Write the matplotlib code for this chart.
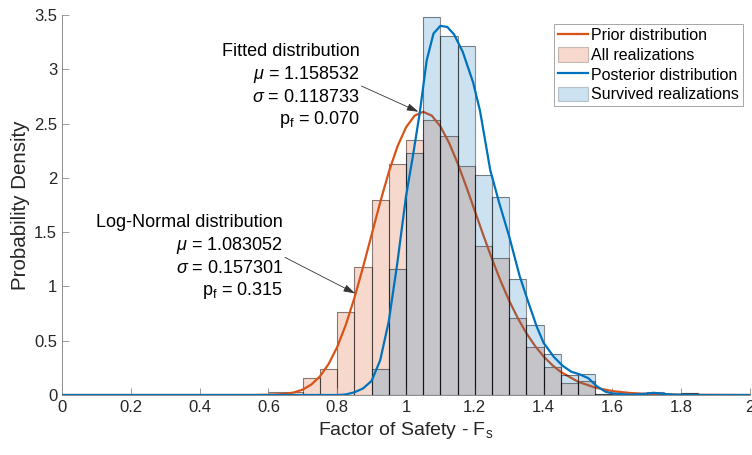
import matplotlib
matplotlib.use("Agg")
import matplotlib.pyplot as plt
from matplotlib.patches import Patch
from matplotlib.lines import Line2D

plt.rcParams['font.family'] = ['Liberation Sans', 'DejaVu Sans']
plt.rcParams['mathtext.fontset'] = 'custom'
plt.rcParams['mathtext.rm'] = 'Liberation Sans'
plt.rcParams['mathtext.it'] = 'Liberation Sans:italic'

# histogram bins (left edges, width 0.05)
bin_left = [0.60, 0.65, 0.70, 0.75, 0.80, 0.85, 0.90, 0.95, 1.00, 1.05, 1.10, 1.15, 1.20,
            1.25, 1.30, 1.35, 1.40, 1.45, 1.50, 1.55, 1.60, 1.65, 1.70, 1.75, 1.80]
bin_width = 0.05
all_density = [0.03, 0.03, 0.154, 0.236, 0.76, 1.18, 1.80, 2.13, 2.35, 2.53, 2.39, 2.11, 1.375,
               1.26, 0.71, 0.445, 0.255, 0.115, 0.125, 0.012, 0.006, 0.0, 0.02, 0.0, 0.02]
survived_density = [0, 0, 0, 0, 0, 0, 0.236, 1.157, 2.225, 3.48, 3.31, 3.21, 2.03,
                    1.82, 1.07, 0.647, 0.375, 0.184, 0.19, 0.012, 0.0, 0.0, 0.03, 0.0, 0.02]

# prior (log-normal) curve
prior_x = [0.0, 0.5, 0.55, 0.6, 0.65, 0.675, 0.7, 0.725, 0.75, 0.775, 0.8, 0.825, 0.85, 0.875,
           0.9, 0.925, 0.95, 0.975, 1.0, 1.025, 1.05, 1.075, 1.1, 1.125, 1.15, 1.175, 1.2,
           1.225, 1.25, 1.275, 1.3, 1.325, 1.35, 1.375, 1.4, 1.425, 1.45, 1.5, 1.55, 1.6,
           1.65, 1.7, 1.8, 1.9, 2.0]
prior_y = [0.0, 0.0, 0.0, 0.002, 0.01, 0.024, 0.05, 0.097, 0.172, 0.285, 0.442, 0.646, 0.894, 1.176,
           1.476, 1.775, 2.053, 2.288, 2.465, 2.573, 2.608, 2.573, 2.474, 2.324, 2.135, 1.921, 1.696,
           1.47, 1.253, 1.051, 0.868, 0.708, 0.569, 0.452, 0.355, 0.276, 0.212, 0.122, 0.068, 0.036,
           0.019, 0.01, 0.003, 0.001, 0.0]

# posterior curve
post_x = [0.0, 0.8, 0.825, 0.85, 0.875, 0.9, 0.925, 0.95, 0.975, 1.0, 1.02, 1.04, 1.06, 1.08,
          1.1, 1.12, 1.14, 1.165, 1.195, 1.215, 1.245, 1.27, 1.30, 1.33, 1.355, 1.38, 1.40,
          1.43, 1.455, 1.48, 1.505, 1.53, 1.555, 1.58, 1.60, 1.65, 1.69, 1.72, 1.75, 1.78,
          1.85, 2.0]
post_y = [0.0, 0.0, 0.005, 0.025, 0.06, 0.13, 0.32, 0.68, 1.22, 1.83, 2.2, 2.6, 3.08, 3.33,
          3.40, 3.39, 3.32, 3.16, 2.88, 2.62, 2.07, 1.78, 1.46, 1.10, 0.86, 0.63, 0.48,
          0.35, 0.27, 0.215, 0.19, 0.155, 0.08, 0.03, 0.015, 0.003, 0.01, 0.02, 0.01, 0.003,
          0.0, 0.0]

orange = '#D95319'
blue = '#0072BD'

fig = plt.figure(figsize=(7.52, 4.55), dpi=100)
ax = fig.add_axes([62 / 752, 60 / 455, 688 / 752, 380 / 455])

ax.bar(bin_left, all_density, width=bin_width, align='edge', color=orange, alpha=0.22,
       edgecolor='none', zorder=1)
ax.bar(bin_left, all_density, width=bin_width, align='edge', fill=False,
       edgecolor=(0, 0, 0, 0.45), linewidth=0.8, zorder=1.5)
ax.plot(prior_x, prior_y, color=orange, lw=1.6, zorder=2)
ax.bar(bin_left, survived_density, width=bin_width, align='edge', color=blue, alpha=0.2,
       edgecolor='none', zorder=3)
ax.bar(bin_left, survived_density, width=bin_width, align='edge', fill=False,
       edgecolor=(0, 0, 0, 0.45), linewidth=0.8, zorder=3.5)
ax.plot(post_x, post_y, color=blue, lw=1.6, zorder=4)

ax.set_xlim(0, 2)
ax.set_ylim(0, 3.5)
ax.set_xticks([0, 0.2, 0.4, 0.6, 0.8, 1, 1.2, 1.4, 1.6, 1.8, 2])
ax.set_xticklabels(['0', '0.2', '0.4', '0.6', '0.8', '1', '1.2', '1.4', '1.6', '1.8', '2'])
ax.set_yticks([0, 0.5, 1, 1.5, 2, 2.5, 3, 3.5])
ax.set_yticklabels(['0', '0.5', '1', '1.5', '2', '2.5', '3', '3.5'])
ax.tick_params(direction='in', length=5, width=0.6, colors='#8c8c8c', labelcolor='#262626',
               labelsize=12)
for s in ['top', 'right']:
    ax.spines[s].set_visible(False)
for s in ['left', 'bottom']:
    ax.spines[s].set_color('#8c8c8c')
    ax.spines[s].set_linewidth(0.7)

ax.set_xlabel('Factor of Safety - F$_\\mathrm{s}$', fontsize=14, color='#262626', labelpad=4)
ax.set_ylabel('Probability Density', fontsize=14.8, color='#262626', labelpad=3)

# annotation blocks
fit_lines = ['Fitted distribution', '$\\mu$ = 1.158532', '$\\sigma$ = 0.118733', 'p$_\\mathrm{f}$ = 0.070']
fit_y = [3.126, 2.910, 2.698, 2.497]
for t, y in zip(fit_lines, fit_y):
    ax.text(0.866, y, t, ha='right', va='baseline', fontsize=13, color='#000000')
logn_lines = ['Log-Normal distribution', '$\\mu$ = 1.083052', '$\\sigma$ = 0.157301', 'p$_\\mathrm{f}$ = 0.315']
logn_y = [1.551, 1.340, 1.124, 0.923]
for t, y in zip(logn_lines, logn_y):
    ax.text(0.642, y, t, ha='right', va='baseline', fontsize=13, color='#000000')

arrow = dict(arrowstyle='-|>,head_length=0.7,head_width=0.22', color='#333333', lw=0.6,
             shrinkA=0, shrinkB=0)
ax.annotate('', xy=(1.036, 2.609), xytext=(0.871, 2.845), arrowprops=arrow, zorder=6)
ax.annotate('', xy=(0.852, 0.936), xytext=(0.648, 1.268), arrowprops=arrow, zorder=6)

handles = [Line2D([], [], color=orange, lw=1.6),
           Patch(facecolor=orange, alpha=0.22, edgecolor=(0, 0, 0, 0.5), lw=0.8),
           Line2D([], [], color=blue, lw=1.6),
           Patch(facecolor=blue, alpha=0.2, edgecolor=(0, 0, 0, 0.5), lw=0.8)]
labels = ['Prior distribution', 'All realizations', 'Posterior distribution', 'Survived realizations']
leg = ax.legend(handles, labels, loc='upper right', bbox_to_anchor=(0.99, 0.977),
                borderaxespad=0, fontsize=11.5, handlelength=1.9, handleheight=1.0,
                handletextpad=0.2, labelspacing=0.25, borderpad=0.25, fancybox=False,
                framealpha=1, edgecolor='#a6a6a6')
leg.get_frame().set_linewidth(0.7)

fig.savefig('out.png', dpi=100)
